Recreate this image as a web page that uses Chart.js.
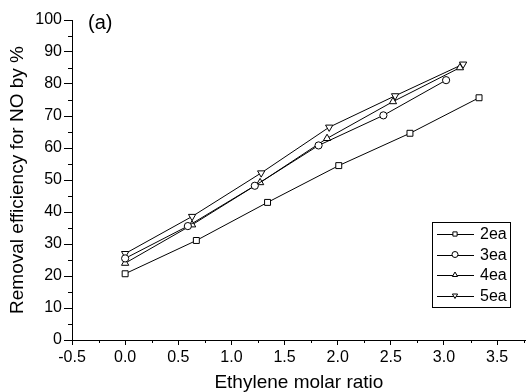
<!DOCTYPE html>
<html>
<head>
<meta charset="utf-8">
<script src="https://cdn.jsdelivr.net/npm/chart.js@4.4.0/dist/chart.umd.min.js"></script>
<style>
  html, body { margin: 0; padding: 0; background: #fff; }
  #wrap { width: 531px; height: 392px; }
</style>
</head>
<body>
<div id="wrap"><canvas id="grafico" width="531" height="392"></canvas></div>
<script>
// ======= Dados =======
const series = ['2ea', '3ea', '4ea', '5ea'];

const x2ea = [0, 0.67, 1.34, 2.01, 2.68, 3.33];
const y2ea = [20.7, 31.1, 43.0, 54.5, 64.6, 75.7];

const x3ea = [0, 0.59, 1.22, 1.82, 2.43, 3.02];
const y3ea = [25.5, 35.6, 48.2, 60.8, 70.2, 81.2];

const x4ea = [0, 0.63, 1.27, 1.90, 2.52, 3.15];
const y4ea = [24.0, 36.0, 49.2, 63.0, 74.5, 85.1];

const x5ea = [0, 0.63, 1.28, 1.92, 2.54, 3.18];
const y5ea = [27.0, 38.6, 52.2, 66.5, 76.3, 86.2];

const xTicks = [-0.5, 0.0, 0.5, 1.0, 1.5, 2.0, 2.5, 3.0, 3.5];
const yTicks = [0, 10, 20, 30, 40, 50, 60, 70, 80, 90, 100];

// ======= Estilos =======
const FONT = 'Liberation Sans, Arial, Helvetica, sans-serif';
const estilos = [
  { pointStyle: 'rect', rotation: 0 },
  { pointStyle: 'circle', rotation: 0 },
  { pointStyle: 'triangle', rotation: 0 },
  { pointStyle: 'triangle', rotation: 180 }
];
const radios = [4.2, 3.6, 4.2, 4.2];

const pares = (xs, ys) => xs.map((x, i) => ({ x: x, y: ys[i] }));
const dadosSeries = [pares(x2ea, y2ea), pares(x3ea, y3ea), pares(x4ea, y4ea), pares(x5ea, y5ea)];

const datasets = series.map((nome, i) => ({
  label: nome,
  data: dadosSeries[i],
  borderColor: '#000',
  borderWidth: 1,
  backgroundColor: '#fff',
  pointStyle: estilos[i].pointStyle,
  pointRotation: estilos[i].rotation,
  pointRadius: radios[i],
  pointBorderWidth: 1,
  pointBorderColor: '#000',
  pointBackgroundColor: '#fff',
  tension: 0,
  fill: false
}));

// ======= Ticks menores, rótulo (a) e legenda =======
const extras = {
  id: 'extras',
  afterDraw(chart) {
    const ctx = chart.ctx;
    const sx = chart.scales.x, sy = chart.scales.y;
    ctx.save();
    ctx.strokeStyle = '#000';
    ctx.lineWidth = 1;
    // ticks menores do eixo y
    for (let v = 5; v < 100; v += 10) {
      const py = Math.round(sy.getPixelForValue(v)) + 0.5;
      ctx.beginPath();
      ctx.moveTo(sx.left - 4, py);
      ctx.lineTo(sx.left, py);
      ctx.stroke();
    }
    // ticks menores do eixo x
    for (let v = -0.25; v < sx.max; v += 0.5) {
      const px = Math.round(sx.getPixelForValue(v)) + 0.5;
      ctx.beginPath();
      ctx.moveTo(px, sy.bottom);
      ctx.lineTo(px, sy.bottom + 3);
      ctx.stroke();
    }
    // rótulo (a)
    ctx.fillStyle = '#000';
    ctx.font = '20px ' + FONT;
    ctx.textBaseline = 'middle';
    ctx.textAlign = 'left';
    ctx.fillText('(a)', 88, 23);

    // legenda
    const bx = 432, by = 222, bw = 78, bh = 85;
    ctx.strokeRect(bx + 0.5, by + 0.5, bw, bh);
    ctx.font = '16px ' + FONT;
    chart.data.datasets.forEach((ds, i) => {
      const ly = by + 12 + i * 20.5;
      ctx.beginPath();
      ctx.moveTo(bx + 5, Math.round(ly) + 0.5);
      ctx.lineTo(bx + 42, Math.round(ly) + 0.5);
      ctx.stroke();
      ctx.fillStyle = '#fff';
      ctx.strokeStyle = '#000';
      Chart.helpers.drawPoint(ctx, {
        pointStyle: ds.pointStyle,
        rotation: ds.pointRotation,
        radius: 3,
        borderWidth: 1
      }, bx + 23, ly);
      ctx.fillStyle = '#000';
      ctx.fillText(ds.label, bx + 48, ly + 1);
    });
    ctx.restore();
  }
};

// ======= Gráfico =======
new Chart(document.getElementById('grafico'), {
  type: 'line',
  data: { datasets: datasets },
  options: {
    responsive: false,
    animation: false,
    layout: { padding: { top: 20, right: 1, left: 0, bottom: 0 } },
    plugins: { legend: { display: false }, tooltip: { enabled: false } },
    scales: {
      x: {
        type: 'linear',
        min: -0.5,
        max: 3.77,
        afterBuildTicks: s => { s.ticks = xTicks.map(v => ({ value: v })); },
        afterFit: s => { s.height = 52; },
        grid: { drawOnChartArea: false, tickLength: 5, color: '#000', tickColor: '#000' },
        border: { color: '#000', width: 1 },
        ticks: {
          color: '#000',
          font: { family: FONT, size: 16 },
          padding: 3,
          maxRotation: 0,
          callback: v => v.toFixed(1)
        },
        title: {
          display: true,
          text: 'Ethylene molar ratio',
          color: '#000',
          font: { family: FONT, size: 19, lineHeight: 1 },
          padding: { top: 0, bottom: 0 }
        }
      },
      y: {
        min: 0,
        max: 100,
        afterBuildTicks: s => { s.ticks = yTicks.map(v => ({ value: v })); },
        afterFit: s => { s.width = 72; },
        grid: { drawOnChartArea: false, tickLength: 8, color: '#000', tickColor: '#000' },
        border: { color: '#000', width: 1 },
        ticks: {
          color: '#000',
          font: { family: FONT, size: 16 },
          padding: 2
        },
        title: {
          display: true,
          text: 'Removal efficiency for NO by %',
          color: '#000',
          font: { family: FONT, size: 19, lineHeight: 1.2 },
          padding: { top: 6, bottom: 0 }
        }
      }
    }
  },
  plugins: [extras]
});
</script>
</body>
</html>
